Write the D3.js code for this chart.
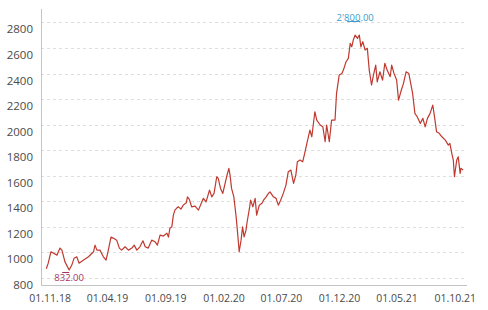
<!DOCTYPE html>
<html>
<head>
<meta charset="utf-8">
<script src="https://cdn.jsdelivr.net/npm/d3@7"></script>
<style>
  body { margin: 0; background: #fff; }
  svg { display: block; font-family: "Open Sans", sans-serif; }
</style>
</head>
<body>
<script>
// price series
var dates = [
  "2018-10-22","2018-10-27","2018-11-03","2018-11-09","2018-11-19","2018-11-27","2018-12-02","2018-12-10","2018-12-21","2018-12-28",
  "2019-01-03","2019-01-10","2019-01-16","2019-01-28","2019-02-10","2019-02-23","2019-02-27","2019-03-04","2019-03-12","2019-03-21",
  "2019-03-28","2019-04-03","2019-04-10","2019-04-16","2019-04-25","2019-05-02","2019-05-08","2019-05-17","2019-05-26","2019-06-04",
  "2019-06-10","2019-06-17","2019-06-25","2019-07-03","2019-07-09","2019-07-17","2019-07-26","2019-08-04","2019-08-10","2019-08-17",
  "2019-08-26","2019-09-04","2019-09-08","2019-09-12","2019-09-17","2019-09-21","2019-09-25","2019-09-30","2019-10-04","2019-10-11",
  "2019-10-17","2019-10-25","2019-10-28","2019-11-02","2019-11-08","2019-11-17","2019-11-26","2019-12-05","2019-12-09","2019-12-16",
  "2019-12-25","2019-12-31","2020-01-06","2020-01-13","2020-01-17","2020-01-23","2020-01-29","2020-02-04","2020-02-08","2020-02-14",
  "2020-02-17","2020-02-21","2020-02-27","2020-03-04","2020-03-08","2020-03-12","2020-03-17","2020-03-21","2020-03-25","2020-03-30",
  "2020-04-02","2020-04-08","2020-04-11","2020-04-17","2020-04-23","2020-04-27","2020-05-04","2020-05-11","2020-05-15","2020-05-22",
  "2020-05-28","2020-06-01","2020-06-10","2020-06-17","2020-06-23","2020-06-29","2020-07-06","2020-07-13","2020-07-19","2020-07-26",
  "2020-08-02","2020-08-08","2020-08-12","2020-08-19","2020-08-26","2020-09-01","2020-09-06","2020-09-14","2020-09-19","2020-09-27",
  "2020-10-02","2020-10-11","2020-10-18","2020-10-24","2020-10-28","2020-11-04","2020-11-10","2020-11-19","2020-11-23","2020-11-30",
  "2020-12-07","2020-12-11","2020-12-18","2020-12-24","2020-12-29","2021-01-02","2021-01-06","2021-01-11","2021-01-17","2021-01-22",
  "2021-01-26","2021-01-31","2021-02-06","2021-02-12","2021-02-17","2021-02-23","2021-02-28","2021-03-06","2021-03-10","2021-03-17",
  "2021-03-24","2021-03-30","2021-04-05","2021-04-13","2021-04-17","2021-04-23","2021-04-30","2021-05-05","2021-05-11","2021-05-18",
  "2021-05-25","2021-06-01","2021-06-06","2021-06-11","2021-06-17","2021-06-23","2021-07-01","2021-07-08","2021-07-14","2021-07-20",
  "2021-07-27","2021-08-03","2021-08-07","2021-08-13","2021-08-20","2021-08-27","2021-09-05","2021-09-13","2021-09-17","2021-09-22",
  "2021-09-26","2021-09-29","2021-10-05","2021-10-09","2021-10-14","2021-10-16","2021-10-22"
];
var prices = [
  872, 916, 1005, 995, 979, 1034, 1018, 926, 862, 901,
  955, 966, 916, 940, 966, 1005, 1057, 1018, 1018, 966,
  940, 1018, 1120, 1112, 1096, 1034, 1018, 1044, 1018, 1034,
  1057, 1018, 1044, 1091, 1044, 1034, 1096, 1083, 1057, 1135,
  1128, 1151, 1120, 1190, 1200, 1292, 1331, 1347, 1357, 1339,
  1370, 1388, 1435, 1415, 1357, 1362, 1331, 1396, 1423, 1396,
  1488, 1435, 1462, 1592, 1579, 1501, 1462, 1540, 1592, 1658,
  1605, 1501, 1435, 1279, 1149, 1005, 1096, 1200, 1122, 1175,
  1240, 1344, 1409, 1357, 1423, 1292, 1370, 1384, 1409, 1435,
  1462, 1474, 1435, 1423, 1370, 1409, 1462, 1527, 1631, 1644,
  1540, 1605, 1709, 1723, 1709, 1785, 1853, 1957, 1905, 2101,
  2036, 1997, 1983, 1866, 1997, 1866, 2036, 2036, 2245, 2388,
  2401, 2427, 2492, 2519, 2636, 2609, 2662, 2701, 2675, 2701,
  2609, 2649, 2584, 2597, 2427, 2310, 2388, 2466, 2335, 2414,
  2349, 2480, 2427, 2375, 2466, 2401, 2349, 2192, 2257, 2323,
  2414, 2401, 2323, 2245, 2088, 2062, 2010, 2049, 1983, 2049,
  2088, 2153, 2075, 1944, 1932, 1905, 1879, 1840, 1853, 1775,
  1723, 1592, 1723, 1748, 1618, 1658, 1644
];
var xTicks = ["2018-11-01","2019-04-01","2019-09-01","2020-02-01","2020-07-01","2020-12-01","2021-05-01","2021-10-01"];
var yTicks = [800, 1000, 1200, 1400, 1600, 1800, 2000, 2200, 2400, 2600, 2800];
var highLabel = "2'800.00", lowLabel = "832.00";

var width = 488, height = 310;
var plotLeft = 41, plotRight = 467, plotTop = 9, plotBottom = 285;
var parse = d3.timeParse("%Y-%m-%d");
var fmt = d3.timeFormat("%d.%m.%y");

var data = dates.map(function(d, i) { return { date: parse(d), value: prices[i] }; });

var x = d3.scaleTime()
    .domain([parse("2018-10-08"), parse("2021-11-01")])
    .range([plotLeft, plotRight]);
var y = d3.scaleLinear()
    .domain([745, 2905])
    .range([plotBottom, plotTop]);

var svg = d3.select("body").append("svg")
    .attr("width", width)
    .attr("height", height);

// grid
svg.append("g").selectAll("line")
    .data(yTicks)
  .enter().append("line")
    .attr("x1", plotLeft).attr("x2", plotRight)
    .attr("y1", function(d) { return Math.round(y(d)) + 0.5; })
    .attr("y2", function(d) { return Math.round(y(d)) + 0.5; })
    .attr("stroke", "#dedede")
    .attr("stroke-dasharray", "3,3");

// y labels, hanging under their grid line
svg.append("g").selectAll("text")
    .data(yTicks)
  .enter().append("text")
    .attr("x", 33)
    .attr("y", function(d) { return y(d) + 11; })
    .attr("text-anchor", "end")
    .attr("font-size", "11.5px")
    .attr("fill", "#4a4a4a")
    .text(function(d) { return d; });

// x labels
svg.append("g").selectAll("text")
    .data(xTicks)
  .enter().append("text")
    .attr("x", function(d) { return x(parse(d)); })
    .attr("y", 302)
    .attr("text-anchor", "middle")
    .attr("font-size", "10.5px")
    .attr("fill", "#4a4a4a")
    .text(function(d) { return fmt(parse(d)); });

// axis lines
svg.append("line")
    .attr("x1", plotLeft + 0.5).attr("x2", plotLeft + 0.5)
    .attr("y1", plotTop).attr("y2", plotBottom)
    .attr("stroke", "#c4c4c4");
svg.append("line")
    .attr("x1", plotLeft).attr("x2", plotRight)
    .attr("y1", plotBottom + 0.5).attr("y2", plotBottom + 0.5)
    .attr("stroke", "#c4c4c4");

// price line
var line = d3.line()
    .x(function(d) { return x(d.date); })
    .y(function(d) { return y(d.value); });
svg.append("path")
    .datum(data)
    .attr("fill", "none")
    .attr("stroke", "#c0392f")
    .attr("stroke-width", 1.2)
    .attr("stroke-linejoin", "round")
    .attr("d", line);

// high / low markers
var hi = data[d3.maxIndex(data, function(d) { return d.value; })];
var lo = data[d3.minIndex(data, function(d) { return d.value; })];

svg.append("line")
    .attr("x1", x(hi.date) - 8).attr("x2", x(hi.date) + 5)
    .attr("y1", 21.5).attr("y2", 21.5)
    .attr("stroke", "#3d9bd0");
svg.append("text")
    .attr("x", x(hi.date))
    .attr("y", 20.5)
    .attr("text-anchor", "middle")
    .attr("font-size", "9.5px")
    .attr("fill", "#3d9bd0")
    .text(highLabel);

svg.append("line")
    .attr("x1", x(lo.date) - 7).attr("x2", x(lo.date))
    .attr("y1", 272.5).attr("y2", 272.5)
    .attr("stroke", "#a8325c");
svg.append("text")
    .attr("x", x(lo.date))
    .attr("y", 281)
    .attr("text-anchor", "middle")
    .attr("font-size", "9.5px")
    .attr("fill", "#a8325c")
    .text(lowLabel);
</script>
</body>
</html>
